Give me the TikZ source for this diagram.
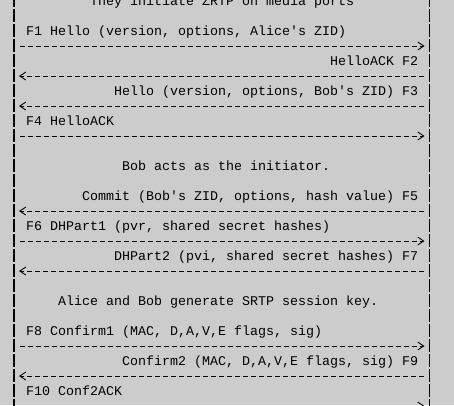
\documentclass[tikz,border=0pt]{standalone}
\usepackage{fontspec}
\setmonofont{Liberation Mono}
\usetikzlibrary{arrows.meta}
\definecolor{screen}{RGB}{204,204,204}

\begin{document}
\begin{tikzpicture}[x=1pt,y=-1pt,
    msg/.style={anchor=base west,inner sep=0pt,
                font=\ttfamily\fontsize{13.33}{15}\selectfont},
    life/.style={line width=1.2pt,dash pattern=on 13pt off 2pt},
    flow/.style={line width=0.9pt,dash pattern=on 5pt off 3pt,
                 shorten <=5.5pt,shorten >=5pt,
                 -{Straight Barb[length=6pt,width=8pt,line width=0.9pt]}}]

  \fill[screen] (0,0) rectangle (454,405);
  \useasboundingbox (0,0) rectangle (454,405);

  \coordinate (alice)    at (14,-6);
  \coordinate (bob)      at (429.5,-6);
  \coordinate (aliceEnd) at (14,420);
  \coordinate (bobEnd)   at (429.5,420);
  \draw[life] (alice) -- (aliceEnd);
  \draw[life] (bob) -- (bobEnd);

  \foreach \r in {3,5,7,9,14,16,18,23,25,27} {
    \coordinate (a\r) at (14,15*\r+1);
    \coordinate (b\r) at (429.5,15*\r+1);
  }

  \node[msg] (ports)    at (90,5.3)   {They initiate ZRTP on media ports};
  \node[msg] (f1)       at (26,35.3)  {F1 Hello (version, options, Alice's ZID)};
  \node[msg] (f2)       at (330,65.3) {HelloACK F2};
  \node[msg] (f3)       at (114,95.3) {Hello (version, options, Bob's ZID) F3};
  \node[msg] (f4)       at (26,125.3) {F4 HelloACK};
  \node[msg] (initiator) at (122,170.3) {Bob acts as the initiator.};
  \node[msg] (f5)       at (82,200.3) {Commit (Bob's ZID, options, hash value) F5};
  \node[msg] (f6)       at (26,230.3) {F6 DHPart1 (pvr, shared secret hashes)};
  \node[msg] (f7)       at (114,260.3) {DHPart2 (pvi, shared secret hashes) F7};
  \node[msg] (srtp)     at (58,305.3) {Alice and Bob generate SRTP session key.};
  \node[msg] (f8)       at (26,335.3) {F8 Confirm1 (MAC, D,A,V,E flags, sig)};
  \node[msg] (f9)       at (122,365.3) {Confirm2 (MAC, D,A,V,E flags, sig) F9};
  \node[msg] (f10)      at (26,395.3) {F10 Conf2ACK};

  \draw[flow] (a3) -- (b3);
  \draw[flow] (b5) -- (a5);
  \draw[flow] (b7) -- (a7);
  \draw[flow] (a9) -- (b9);
  \draw[flow] (b14) -- (a14);
  \draw[flow] (a16) -- (b16);
  \draw[flow] (b18) -- (a18);
  \draw[flow] (a23) -- (b23);
  \draw[flow] (b25) -- (a25);
  \draw[flow] (a27) -- (b27);

\end{tikzpicture}
\end{document}
